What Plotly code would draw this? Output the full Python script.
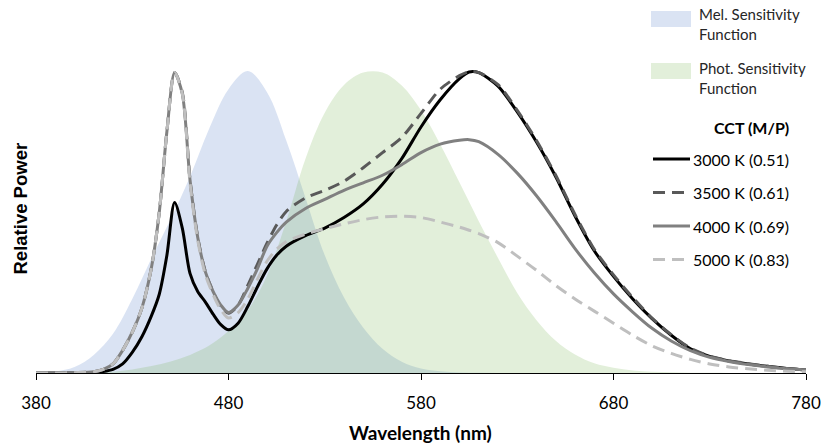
import plotly.graph_objects as go

# ---------------- data ----------------
wavelength = [380, 390, 400, 410, 415, 420, 425, 430, 435, 440, 444, 448, 452, 456, 460, 464, 468, 472, 476, 480,
              485, 490, 495, 500, 505, 510, 520, 530, 540, 550, 560, 570, 580, 590, 600, 605, 610, 620, 630, 640,
              650, 660, 670, 680, 690, 700, 710, 720, 730, 740, 750, 760, 770, 780]

spd_3000K = [0, 0, 0, 0.002, 0.005, 0.012, 0.03, 0.068, 0.12, 0.19, 0.26, 0.39, 0.565, 0.48, 0.33, 0.27, 0.235, 0.195, 0.16, 0.143,
             0.165, 0.22, 0.285, 0.345, 0.39, 0.42, 0.455, 0.48, 0.515, 0.56, 0.625, 0.71, 0.815, 0.905, 0.975, 0.997, 0.995, 0.95, 0.865, 0.765,
             0.65, 0.52, 0.405, 0.32, 0.245, 0.18, 0.125, 0.08, 0.055, 0.04, 0.03, 0.022, 0.015, 0.01]

spd_3500K = [0, 0, 0.001, 0.004, 0.012, 0.03, 0.075, 0.135, 0.215, 0.35, 0.53, 0.80, 0.995, 0.93, 0.64, 0.45, 0.335, 0.27, 0.22, 0.198,
             0.225, 0.29, 0.36, 0.43, 0.49, 0.535, 0.58, 0.605, 0.635, 0.68, 0.73, 0.78, 0.86, 0.94, 0.985, 0.998, 0.995, 0.955, 0.87, 0.77,
             0.655, 0.525, 0.41, 0.325, 0.25, 0.182, 0.127, 0.082, 0.056, 0.041, 0.031, 0.022, 0.015, 0.01]

spd_4000K = [0, 0, 0.001, 0.004, 0.012, 0.03, 0.075, 0.135, 0.215, 0.35, 0.53, 0.80, 0.995, 0.925, 0.64, 0.45, 0.335, 0.27, 0.225, 0.20,
             0.225, 0.28, 0.345, 0.42, 0.465, 0.50, 0.545, 0.575, 0.605, 0.63, 0.655, 0.69, 0.73, 0.758, 0.771, 0.773, 0.766, 0.724, 0.662, 0.587,
             0.502, 0.412, 0.332, 0.262, 0.202, 0.148, 0.106, 0.074, 0.052, 0.038, 0.028, 0.02, 0.014, 0.01]

spd_5000K = [0, 0, 0.001, 0.004, 0.012, 0.03, 0.075, 0.135, 0.215, 0.35, 0.53, 0.80, 0.995, 0.925, 0.63, 0.44, 0.325, 0.26, 0.21, 0.182,
             0.20, 0.245, 0.31, 0.37, 0.41, 0.435, 0.46, 0.478, 0.494, 0.508, 0.517, 0.519, 0.515, 0.50, 0.483, 0.473, 0.462, 0.432, 0.387, 0.34,
             0.29, 0.245, 0.205, 0.165, 0.125, 0.09, 0.065, 0.045, 0.03, 0.02, 0.014, 0.009, 0.006, 0.004]

mel_wl = [380, 390, 400, 410, 420, 430, 440, 450, 460, 470, 480, 490, 500, 510, 520, 530, 540, 550, 560, 570,
          580, 590, 600, 610, 620]
mel_sens = [0.0, 0.005, 0.02, 0.06, 0.13, 0.245, 0.38, 0.51, 0.65, 0.81, 0.94, 1.0, 0.93, 0.77, 0.58, 0.39, 0.25, 0.15, 0.08, 0.037,
            0.015, 0.006, 0.002, 0.0005, 0.0]

phot_wl = [380, 390, 400, 410, 420, 430, 440, 450, 460, 470, 480, 490, 500, 510, 520, 530, 540, 550, 560, 570,
           580, 590, 600, 610, 620, 630, 640, 650, 660, 670, 680, 690, 700, 710, 720, 730, 740, 750, 760, 770, 780]
phot_sens = [0.00004, 0.00012, 0.0004, 0.0012, 0.004, 0.0116, 0.023, 0.038, 0.06, 0.091, 0.139, 0.208, 0.323, 0.503, 0.71, 0.862,
             0.954, 0.995, 0.995, 0.952, 0.87, 0.757, 0.631, 0.503, 0.381, 0.265, 0.175, 0.107, 0.061, 0.032, 0.017, 0.0082,
             0.0041, 0.0021, 0.001, 0.0005, 0.00025, 0.00012, 0.00006, 0.00003, 0.000015]

x_ticks = [380, 480, 580, 680, 780]

series_names = ["3000 K (0.51)", "3500 K (0.61)", "4000 K (0.69)", "5000 K (0.83)"]
series_values = [spd_3000K, spd_3500K, spd_4000K, spd_5000K]
series_colors = ["#000000", "#595959", "#808080", "#bfbfbf"]
series_dash = ["solid", "12px,7px", "solid", "12px,7px"]

MEL_FILL = "rgba(68,114,196,0.2)"
PHOT_FILL = "rgba(112,173,71,0.2)"
FONT = "Lato"

# ---------------- layout geometry ----------------
W, H = 821, 444
L, R, T, B = 36, 15, 56, 71
PW, PH = W - L - R, H - T - B


def px(x):
    return (x - L) / PW


def py(y):
    return (H - B - y) / PH


fig = go.Figure()

fig.add_trace(go.Scatter(x=mel_wl, y=mel_sens, mode="lines", fill="tozeroy", fillcolor=MEL_FILL,
                         line=dict(width=0, shape="spline", color=MEL_FILL), hoverinfo="skip",
                         name="Mel. Sensitivity Function", showlegend=False))
fig.add_trace(go.Scatter(x=phot_wl, y=phot_sens, mode="lines", fill="tozeroy", fillcolor=PHOT_FILL,
                         line=dict(width=0, shape="spline", color=PHOT_FILL), hoverinfo="skip",
                         name="Phot. Sensitivity Function", showlegend=False))

for name, vals, col, dash in zip(series_names, series_values, series_colors, series_dash):
    fig.add_trace(go.Scatter(x=wavelength, y=vals, mode="lines", name=name, hoverinfo="skip",
                             line=dict(color=col, width=3, dash=dash, shape="spline", smoothing=0.8),
                             showlegend=False))

# ---------------- custom legend ----------------
shapes = []
annotations = []

shapes.append(dict(type="rect", xref="paper", yref="paper", x0=px(651), x1=px(691), y0=py(27), y1=py(11),
                   fillcolor=MEL_FILL, line=dict(width=0), layer="above"))
annotations.append(dict(xref="paper", yref="paper", x=px(697), y=py(24.5), xanchor="left", yanchor="middle",
                        align="left", showarrow=False, text="Mel. Sensitivity<br>Function",
                        font=dict(family=FONT, size=15, color="#262626")))
shapes.append(dict(type="rect", xref="paper", yref="paper", x0=px(651), x1=px(691), y0=py(79), y1=py(63),
                   fillcolor=PHOT_FILL, line=dict(width=0), layer="above"))
annotations.append(dict(xref="paper", yref="paper", x=px(697), y=py(78), xanchor="left", yanchor="middle",
                        align="left", showarrow=False, text="Phot. Sensitivity<br>Function",
                        font=dict(family=FONT, size=15, color="#262626")))
annotations.append(dict(xref="paper", yref="paper", x=px(791), y=py(127), xanchor="right", yanchor="middle",
                        showarrow=False, text="<b>CCT (M/P)</b>",
                        font=dict(family=FONT, size=16, color="#000000")))

row_y = [159, 192.5, 226, 259.5]
for name, col, dash, yy in zip(series_names, series_colors, series_dash, row_y):
    shapes.append(dict(type="line", xref="paper", yref="paper", x0=px(653), x1=px(690), y0=py(yy), y1=py(yy),
                       line=dict(color=col, width=3, dash=dash), layer="above"))
    annotations.append(dict(xref="paper", yref="paper", x=px(691), y=py(yy), xanchor="left", yanchor="middle",
                            showarrow=False, text=name, font=dict(family=FONT, size=16, color="#000000")))

# axis titles
annotations.append(dict(xref="paper", yref="paper", x=px(420), y=py(432), xanchor="center", yanchor="middle",
                        showarrow=False, text="<b>Wavelength (nm)</b>",
                        font=dict(family=FONT, size=19, color="#000000")))
annotations.append(dict(xref="paper", yref="paper", x=px(20), y=py(208.5), xanchor="center", yanchor="middle",
                        showarrow=False, text="<b>Relative Power</b>", textangle=-90,
                        font=dict(family="Liberation Sans", size=18.5, color="#000000")))

fig.update_layout(
    width=W, height=H, autosize=False,
    margin=dict(l=L, r=R, t=T, b=B, pad=0, autoexpand=False),
    paper_bgcolor="white", plot_bgcolor="white",
    showlegend=False, hovermode=False,
    shapes=shapes,
    annotations=annotations,
    font=dict(family=FONT, size=16, color="#000000"),
    xaxis=dict(range=[380, 780], tickvals=x_ticks, ticktext=[str(v) for v in x_ticks], automargin=False,
               showgrid=False, zeroline=False, showline=True, linecolor="#000000", linewidth=1,
               ticks="outside", ticklen=6, tickcolor="#000000", tickwidth=1,
               tickfont=dict(family=FONT, size=17, color="#000000"), ticklabelstandoff=9),
    yaxis=dict(range=[0, 1.05], showgrid=False, zeroline=False, showline=False, showticklabels=False,
               ticks="", automargin=False),
)

fig.write_html("out.html",
               config={"displayModeBar": False, "responsive": False, "staticPlot": True},
               post_script="document.body.style.margin='0';document.body.style.overflow='hidden';")
